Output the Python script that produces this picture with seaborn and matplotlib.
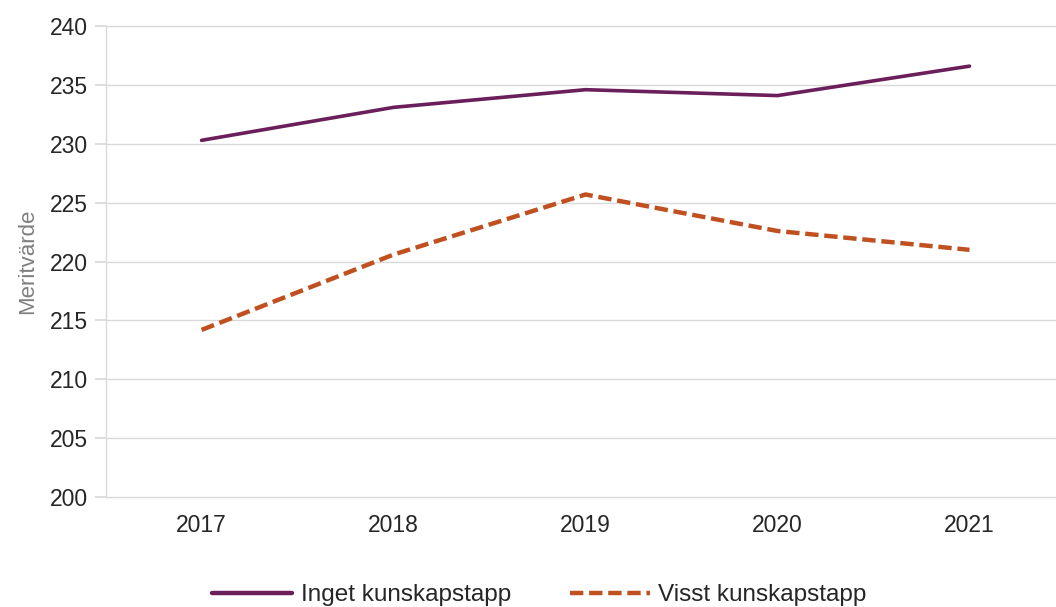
import pandas as pd
import seaborn as sns
import matplotlib.pyplot as plt

# Data
years = ['2017', '2018', '2019', '2020', '2021']
inget = [230.3, 233.1, 234.6, 234.1, 236.6]
visst = [214.2, 220.6, 225.7, 222.6, 221.0]
series_names = ['Inget kunskapstapp', 'Visst kunskapstapp']

df = pd.DataFrame({
    'year': years * 2,
    'value': inget + visst,
    'group': [series_names[0]] * len(years) + [series_names[1]] * len(years),
})

sns.set_theme(style='white')
plt.rcParams['font.family'] = ['Liberation Sans', 'DejaVu Sans']

fig, ax = plt.subplots(figsize=(10.56, 6.07), dpi=100)
fig.subplots_adjust(left=0.100, right=1.009, top=0.957, bottom=0.181)

sns.lineplot(data=df, x='year', y='value', hue='group', style='group',
             palette={series_names[0]: '#6B1F5A', series_names[1]: '#C0501F'},
             dashes={series_names[0]: '', series_names[1]: (3, 1.3)},
             linewidth=2.6, ax=ax, legend=True, sort=False)

# dashed line a bit thicker
ax.lines[1].set_linewidth(3.2)

ax.set_xlim(-0.5, 4.5)
ax.set_ylim(200, 240)
ax.set_yticks(range(200, 241, 5))
ax.grid(axis='y', color='#d9d9d9', linewidth=1)
ax.set_axisbelow(True)
for gl in ax.get_ygridlines():
    gl.set_clip_on(False)

for side in ['top', 'right', 'bottom']:
    ax.spines[side].set_visible(False)
ax.spines['left'].set_color('#d9d9d9')
ax.spines['left'].set_linewidth(1)

ax.tick_params(axis='y', length=8, color='#d9d9d9', labelsize=16.5, pad=5, left=True,
               labelcolor='#262626')
ax.tick_params(axis='x', length=0, labelsize=16.5, pad=12, labelcolor='#262626')
ax.set_xlabel('')
ax.set_ylabel('Meritvärde', fontsize=16, color='#7f7f7f', labelpad=8)

handles, labels = ax.get_legend_handles_labels()
ax.legend(handles, labels, loc='center', bbox_to_anchor=(0.452, -0.208),
          ncol=2, frameon=False, fontsize=17.5, handlelength=3.3,
          handletextpad=0.35, columnspacing=2.4, labelcolor='#262626',
          borderaxespad=0, borderpad=0)
leg = ax.get_legend()
for ln in leg.get_lines():
    ln.set_linewidth(3.2)

fig.savefig('out.png', dpi=100)
